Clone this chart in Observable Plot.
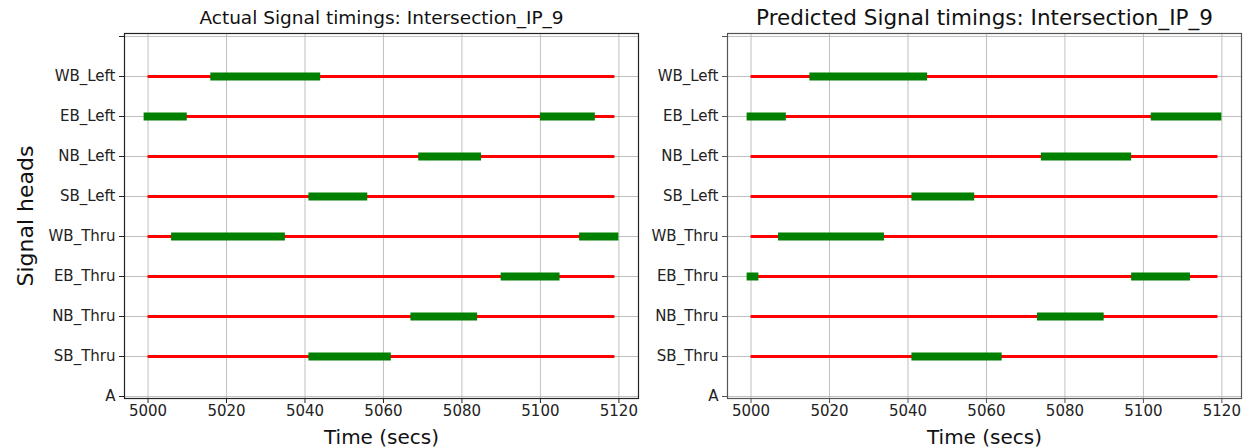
<!DOCTYPE html>
<html>
<head>
<meta charset="utf-8">
<script src="https://cdn.jsdelivr.net/npm/d3@7"></script>
<script src="https://cdn.jsdelivr.net/npm/@observablehq/plot@0.6"></script>
<style>
  body { margin: 0; background: #fff; }
  #charts { display: flex; width: 1250px; height: 448px; }
</style>
</head>
<body>
<div id="charts"></div>
<script>
// Signal heads, top to bottom; the blank entry pads the top row, "A" sits on the baseline.
const heads = ["WB_Left", "EB_Left", "NB_Left", "SB_Left", "WB_Thru", "EB_Thru", "NB_Thru", "SB_Thru"];
const yDomain = ["", ...heads, "A"];

// Red (stop) span drawn for every head.
const cycleStart = 5000;
const cycleEnd = 5119;

// Green phases: [head, start secs, end secs]
const actualPhases = [
  ["WB_Left", 5016, 5044],
  ["EB_Left", 4999, 5010],
  ["EB_Left", 5100, 5114],
  ["NB_Left", 5069, 5085],
  ["SB_Left", 5041, 5056],
  ["WB_Thru", 5006, 5035],
  ["WB_Thru", 5110, 5120],
  ["EB_Thru", 5090, 5105],
  ["NB_Thru", 5067, 5084],
  ["SB_Thru", 5041, 5062]
];

const predictedPhases = [
  ["WB_Left", 5015, 5045],
  ["EB_Left", 4999, 5009],
  ["EB_Left", 5102, 5120],
  ["NB_Left", 5074, 5097],
  ["SB_Left", 5041, 5057],
  ["WB_Thru", 5007, 5034],
  ["EB_Thru", 4999, 5002],
  ["EB_Thru", 5097, 5112],
  ["NB_Thru", 5073, 5090],
  ["SB_Thru", 5041, 5064]
];

const xTicks = [5000, 5020, 5040, 5060, 5080, 5100, 5120];
const xDomain = [4994, 5125];

function panel({title, titleSize, phases, width, marginLeft, marginRight, frameColor, yLabel}) {
  const rows = phases.map(([head, start, end]) => ({head, start, end}));
  const marks = [
    Plot.gridX(xTicks, {stroke: "#b0b0b0", strokeOpacity: 0.8, strokeWidth: 1}),
    Plot.gridY(yDomain, {stroke: "#b0b0b0", strokeOpacity: 0.8, strokeWidth: 1}),
    Plot.ruleY(heads, {y: d => d, x1: () => cycleStart, x2: () => cycleEnd, stroke: "#ff0000", strokeWidth: 3}),
    Plot.ruleY(rows, {y: "head", x1: "start", x2: "end", stroke: "#008000", strokeWidth: 8}),
    Plot.frame({stroke: frameColor, strokeWidth: 1.2}),
    Plot.axisX({ticks: xTicks, tickFormat: d => String(d), tickSize: 5, tickPadding: 2, fontSize: 15, label: null, stroke: frameColor}),
    Plot.axisY({ticks: yDomain, tickSize: 5, tickPadding: 4, fontSize: 15, label: null, stroke: frameColor}),
    Plot.text([title], {frameAnchor: "top", lineAnchor: "middle", dy: -15, fontSize: titleSize, fill: "#111"}),
    Plot.text(["Time (secs)"], {frameAnchor: "bottom", lineAnchor: "middle", dy: 39, fontSize: 20, fill: "#111"})
  ];
  if (yLabel) {
    marks.push(Plot.text([yLabel], {frameAnchor: "left", textAnchor: "middle", dx: -99, rotate: -90, fontSize: 22, fill: "#111"}));
  }
  return Plot.plot({
    width,
    height: 448,
    marginTop: 33,
    marginBottom: 50,
    marginLeft,
    marginRight,
    style: {fontFamily: "DejaVu Sans", fontSize: "15px", color: "#222", background: "#fff"},
    x: {domain: xDomain, label: null},
    y: {type: "point", domain: yDomain, padding: 0, label: null},
    marks
  });
}

const host = document.getElementById("charts");
host.append(panel({
  title: "Actual Signal timings: Intersection_IP_9",
  titleSize: 18.5,
  phases: actualPhases,
  width: 640, marginLeft: 124, marginRight: 2,
  frameColor: "#222",
  yLabel: "Signal heads"
}));
host.append(panel({
  title: "Predicted Signal timings: Intersection_IP_9",
  titleSize: 21.5,
  phases: predictedPhases,
  width: 610, marginLeft: 87, marginRight: 9,
  frameColor: "#555"
}));
</script>
</body>
</html>
